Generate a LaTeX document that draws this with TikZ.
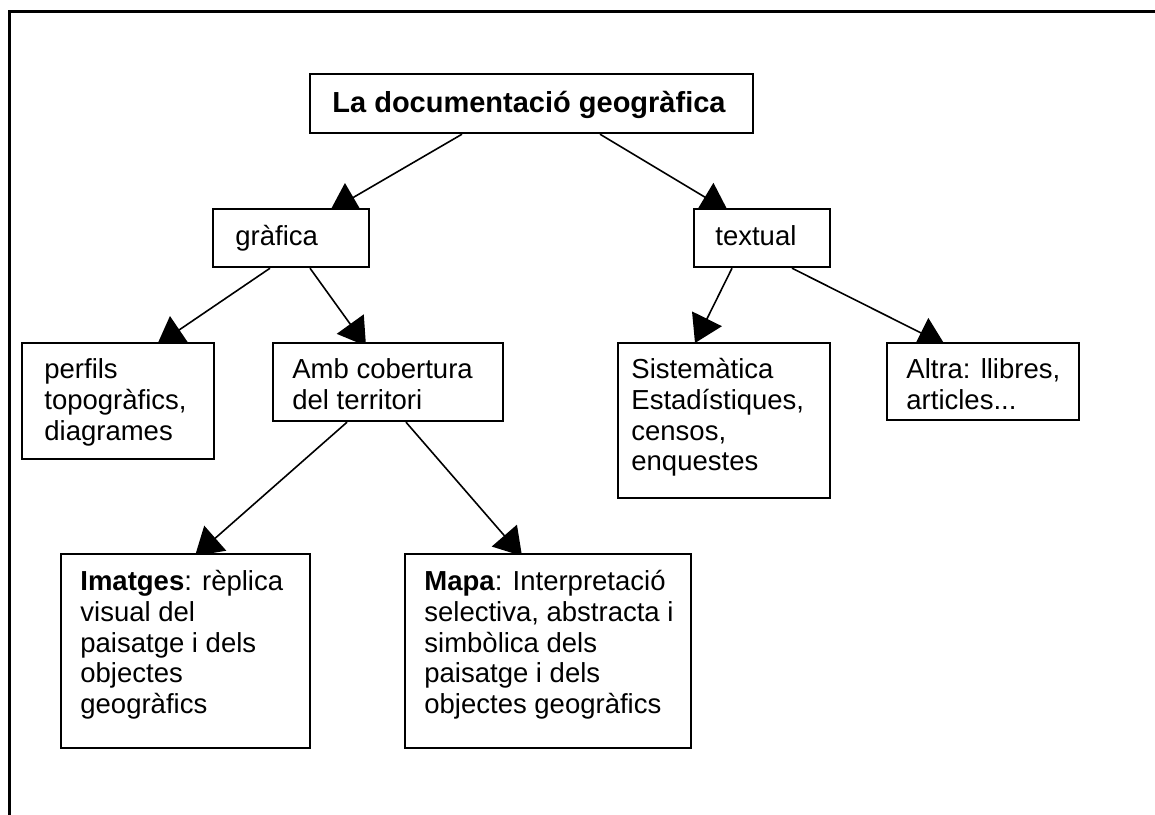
\documentclass[tikz,border=0pt]{standalone}
\usepackage{fontspec}
\setmainfont{Liberation Sans}
\usetikzlibrary{arrows.meta,calc}
\pgfdeclarelayer{bg}
\pgfsetlayers{bg,main}
\begin{document}
\begin{tikzpicture}[x=0.5pt,y=-0.5pt,
  box/.style={draw,line width=1.1pt,fill=white,rectangle,inner sep=0pt,anchor=north west},
  txt/.style={anchor=north west,inner sep=0pt,align=left,font=\fontsize{13.75}{15.4}\selectfont},
  arr/.style={line width=0.8pt,-{Triangle[length=13.5pt,width=16.5pt]}},
  frame/.style={line width=1.3pt}]
\useasboundingbox (0,0) rectangle (1155,814);
\draw[frame] (9.7,830) -- (9.7,11.3) -- (1170,11.3);
% boxes
\node[box,minimum width=221.5pt,minimum height=29.5pt] (t) at (309,73) {};
\node[box,minimum width=78pt,minimum height=29pt] (g) at (212,208) {};
\node[box,minimum width=68pt,minimum height=29pt] (x) at (693,208) {};
\node[box,minimum width=96pt,minimum height=58pt] (p) at (21,342) {};
\node[box,minimum width=115pt,minimum height=39pt] (a) at (272,342) {};
\node[box,minimum width=106pt,minimum height=77.5pt] (s) at (617,342) {};
\node[box,minimum width=96pt,minimum height=38.5pt] (al) at (886,342) {};
\node[box,minimum width=124.5pt,minimum height=97pt] (i) at (60,553) {};
\node[box,minimum width=143pt,minimum height=97pt] (m) at (404,553) {};
% texts
\node[txt,font=\fontsize{14.5}{16}\selectfont] (t-l) at (332,89) {\rule{0pt}{11.5pt}\textbf{La documentació geogràfica}};
\node[txt] (g-l) at (235,223) {\rule{0pt}{11pt}gràfica};
\node[txt] (x-l) at (715,223) {\rule{0pt}{11pt}textual};
\node[txt] (p-l) at (44,356) {\rule{0pt}{11pt}perfils\\topogràfics,\\diagrames};
\node[txt] (a-l) at (292,356) {\rule{0pt}{11pt}Amb cobertura\\del territori};
\node[txt] (s-l) at (631,356) {\rule{0pt}{11pt}Sistemàtica\\Estadístiques,\\censos,\\enquestes};
\node[txt] (al-l) at (906,356) {\rule{0pt}{11pt}Altra: llibres,\\articles...};
\node[txt] (i-l) at (80,568) {\rule{0pt}{11pt}\textbf{Imatges}: rèplica\\visual del\\paisatge i dels\\objectes\\geogràfics};
\node[txt] (m-l) at (424,568) {\rule{0pt}{11pt}\textbf{Mapa}: Interpretació\\selectiva, abstracta i\\simbòlica dels\\paisatge i dels\\objectes geogràfics};
% connectors
\begin{pgfonlayer}{bg}
\draw[arr] ($(t.south west)+(153,0)$) -- ($(g.north west)+(118,3)$);
\draw[arr] ($(t.south west)+(291,0)$) -- ($(x.north west)+(35,3)$);
\draw[arr] ($(g.south west)+(58,0)$) -- ($(p.north west)+(136,3)$);
\draw[arr] ($(g.south west)+(98,0)$) -- ($(a.north west)+(94,4)$);
\draw[arr] ($(x.south west)+(39,0)$) -- ($(s.north west)+(78,1)$);
\draw[arr] ($(x.south west)+(99,0)$) -- ($(al.north west)+(59,3)$);
\draw[arr] ($(a.south west)+(75,0)$) -- ($(i.north west)+(135,3)$);
\draw[arr] ($(a.south west)+(134,0)$) -- ($(m.north west)+(118,3)$);
\end{pgfonlayer}
\end{tikzpicture}
\end{document}
